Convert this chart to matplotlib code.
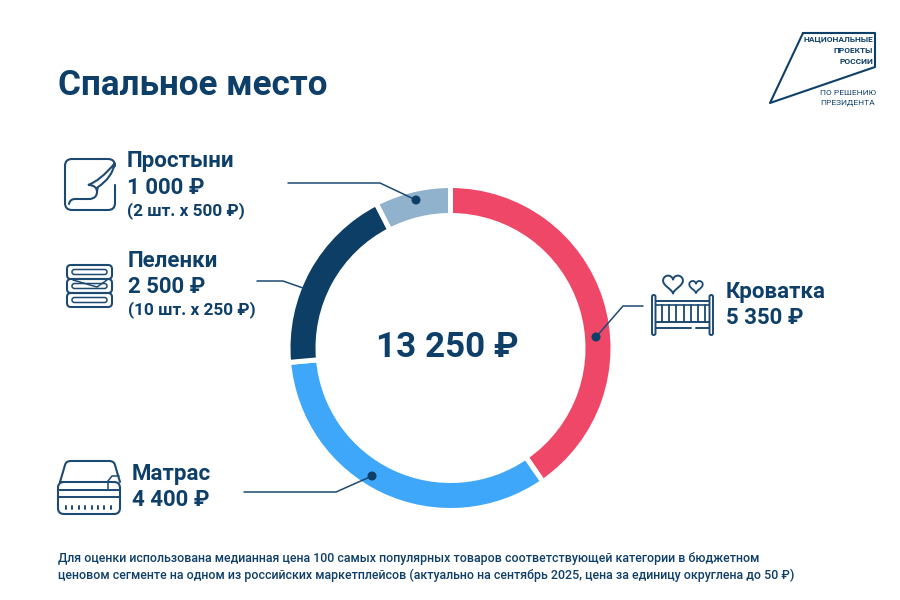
import matplotlib

matplotlib.use("Agg")

import matplotlib.pyplot as plt
import numpy as np
from matplotlib.patches import Circle, FancyBboxPatch, PathPatch
from matplotlib.path import Path

plt.rcParams["font.family"] = ["Roboto", "DejaVu Sans"]

NAVY = "#0E3F69"
LINE = "#1C4A72"

categories = ["Кроватка", "Матрас", "Пеленки", "Простыни"]
values = [5350, 4400, 2500, 1000]
colors = ["#EF4768", "#3FA7FA", "#0C3E66", "#91B2CD"]
total_label = "13 250 ₽"
price_labels = ["5 350 ₽", "4 400 ₽", "2 500 ₽", "1 000 ₽"]
notes = {"Пеленки": "(10 шт. х 250 ₽)", "Простыни": "(2 шт. х 500 ₽)"}
title = "Спальное место"
footnote = [
    "Для оценки использована медианная цена 100 самых популярных товаров соответствующей категории в бюджетном",
    "ценовом сегменте на одном из российских маркетплейсов (актуально на сентябрь 2025, цена за единицу округлена до 50 ₽)",
]

W, H = 900, 600
fig = plt.figure(figsize=(W / 100, H / 100), dpi=100, facecolor="white")
ax = fig.add_axes([0, 0, 1, 1])
ax.set_xlim(0, W)
ax.set_ylim(H, 0)
ax.axis("off")

# ring lives in its own square axes, the white edge eats 2.5 px per side
cx, cy, r = 450.5, 348, 162.5
pie_ax = fig.add_axes([(cx - r) / W, 1 - (cy + r) / H, 2 * r / W, 2 * r / H])
pie_ax.pie(
    values,
    colors=colors,
    startangle=90,
    counterclock=False,
    wedgeprops={"width": 30 / r, "edgecolor": "white", "linewidth": 3.6},
)
pie_ax.set_xlim(-1, 1)
pie_ax.set_ylim(-1, 1)
pie_ax.set_zorder(1)
ax.set_zorder(2)
ax.patch.set_alpha(0)


def line(points, lw=1.3, color=LINE, closed=False):
    xs, ys = zip(*points)
    if closed:
        xs, ys = xs + xs[:1], ys + ys[:1]
    ax.plot(xs, ys, color=color, lw=lw, solid_capstyle="round", solid_joinstyle="round")


def curve(verts, codes, lw=1.5, color=LINE):
    ax.add_patch(PathPatch(Path(verts, codes), fc="none", ec=color, lw=lw, capstyle="round"))


def rbox(x, y, w, h, rad, lw=1.5):
    ax.add_patch(
        FancyBboxPatch((x + rad, y + rad), w - 2 * rad, h - 2 * rad, boxstyle=f"round,pad={rad}",
                       fc="none", ec=LINE, lw=lw)
    )


def heart(x, y, s, lw=1.4):
    t = np.linspace(0.15, 2 * np.pi - 0.35, 80)
    hx = 16 * np.sin(t) ** 3
    hy = 13 * np.cos(t) - 5 * np.cos(2 * t) - 2 * np.cos(3 * t) - np.cos(4 * t)
    ax.plot(x + hx * s, y - hy * s, color=LINE, lw=lw, solid_capstyle="round")


# text blocks
ax.text(58, 85.5, title, fontsize=25.2, fontweight="bold", color=NAVY, va="center", ha="left")


def label(x, y_name, name, price, note=None):
    ax.text(x, y_name, name, fontsize=16, fontweight="bold", color=NAVY, va="center")
    ax.text(x, y_name + 26, price, fontsize=16, fontweight="bold", color=NAVY, va="center")
    if note:
        ax.text(x, y_name + 49, note, fontsize=12.4, fontweight="bold", color=NAVY, va="center")


label(127, 161.5, categories[3], price_labels[3], notes[categories[3]])
label(128, 261, categories[2], price_labels[2], notes[categories[2]])
label(726, 292, categories[0], price_labels[0])
label(132, 474, categories[1], price_labels[1])

ax.text(cx - 3.5, 347.5, total_label, fontsize=25.2, fontweight="bold", color=NAVY, ha="center", va="center")

for i, row in enumerate(footnote):
    ax.text(58, 558.5 + i * 17, row, fontsize=8.95, fontweight="medium", color=NAVY, va="center")

# leader lines
line([(288, 183), (380, 183), (416, 200)], lw=1.1)
line([(257, 281), (283, 281), (303, 288)], lw=1.1)
line([(596, 337), (623, 306), (643, 306)], lw=1.1)
line([(244, 492), (336, 492), (372, 476)], lw=1.1)
for dot in [(416, 200), (596, 337), (372, 476)]:
    ax.add_patch(Circle(dot, 4.5, fc=NAVY, ec="none", zorder=5))

# logo
line([(803, 33), (875, 33), (875, 67), (770, 103)], lw=1.5, color=NAVY, closed=True)
for y, row in zip([39.5, 50.5, 61.5], ["НАЦИОНАЛЬНЫЕ", "ПРОЕКТЫ", "РОССИИ"]):
    ax.text(873, y, row, fontsize=6.0, fontweight="bold", color=NAVY, ha="right", va="center")
for y, row in zip([93, 102.5], ["ПО РЕШЕНИЮ", "ПРЕЗИДЕНТА"]):
    ax.text(820, y, row, fontsize=6.0, color=NAVY, ha="left", va="center")

MV, LT, CV = Path.MOVETO, Path.LINETO, Path.CURVE3

# icon: sheet with curled corner
curve(
    [(115, 166), (115, 159), (108, 159), (72, 159), (65, 159), (65, 166), (65, 203), (65, 210), (72, 210),
     (108, 210), (115, 210), (115, 203), (115, 185)],
    [MV, CV, CV, LT, CV, CV, LT, CV, CV, LT, CV, CV, LT],
)
curve(
    [(69, 204), (70, 199), (75, 199), (90, 199), (97, 198), (97, 192), (97, 185), (88, 185),
     (100, 181), (115, 163), (112, 178), (98, 187), (97, 190), (97, 192)],
    [MV, CV, CV, LT, CV, CV, CV, CV, CV, CV, CV, CV, CV, CV],
)

# icon: stacked diapers
for y in (265, 279, 293):
    rbox(67, y, 45, 14, 4)
    rbox(72, y + 4.5, 35, 5, 2.5, lw=1.1)
line([(73, 280), (97, 287), (107, 280)], lw=1.1)

# icon: crib
rbox(652, 295, 3.5, 40, 1.7, lw=1.4)
rbox(709.5, 295, 3.5, 40, 1.7, lw=1.4)
line([(656, 301), (709, 301)], lw=1.4)
line([(656, 305), (709, 305)], lw=1.2)
line([(656, 322), (709, 322)], lw=1.4)
line([(656, 328), (691, 328)], lw=1.4)
line([(696, 328), (709, 328)], lw=1.4)
for x in np.arange(662, 706, 7.2):
    line([(x, 305), (x, 322)], lw=1.3)
heart(673, 283, 0.62)
heart(696, 286, 0.42, lw=1.3)

# icon: mattress
curve(
    [(60, 482), (63, 472), (65, 465), (66, 461), (71, 461), (109, 461), (114, 461), (115, 465), (117, 472), (120, 482)],
    [MV, CV, CV, CV, CV, LT, CV, CV, CV, CV],
)
rbox(58, 482, 62, 32, 6)
line([(58, 490), (120, 490)], lw=1.4)
line([(58, 497), (120, 497)], lw=1.4)
line([(60, 482), (108, 482)], lw=1.4)
line([(108, 490), (108, 481), (112, 476), (119, 476)], lw=1.1)
for x in np.arange(66, 116, 6.4):
    line([(x, 506), (x, 509)], lw=1.4)

fig.savefig("out.png", dpi=100, facecolor="white")
